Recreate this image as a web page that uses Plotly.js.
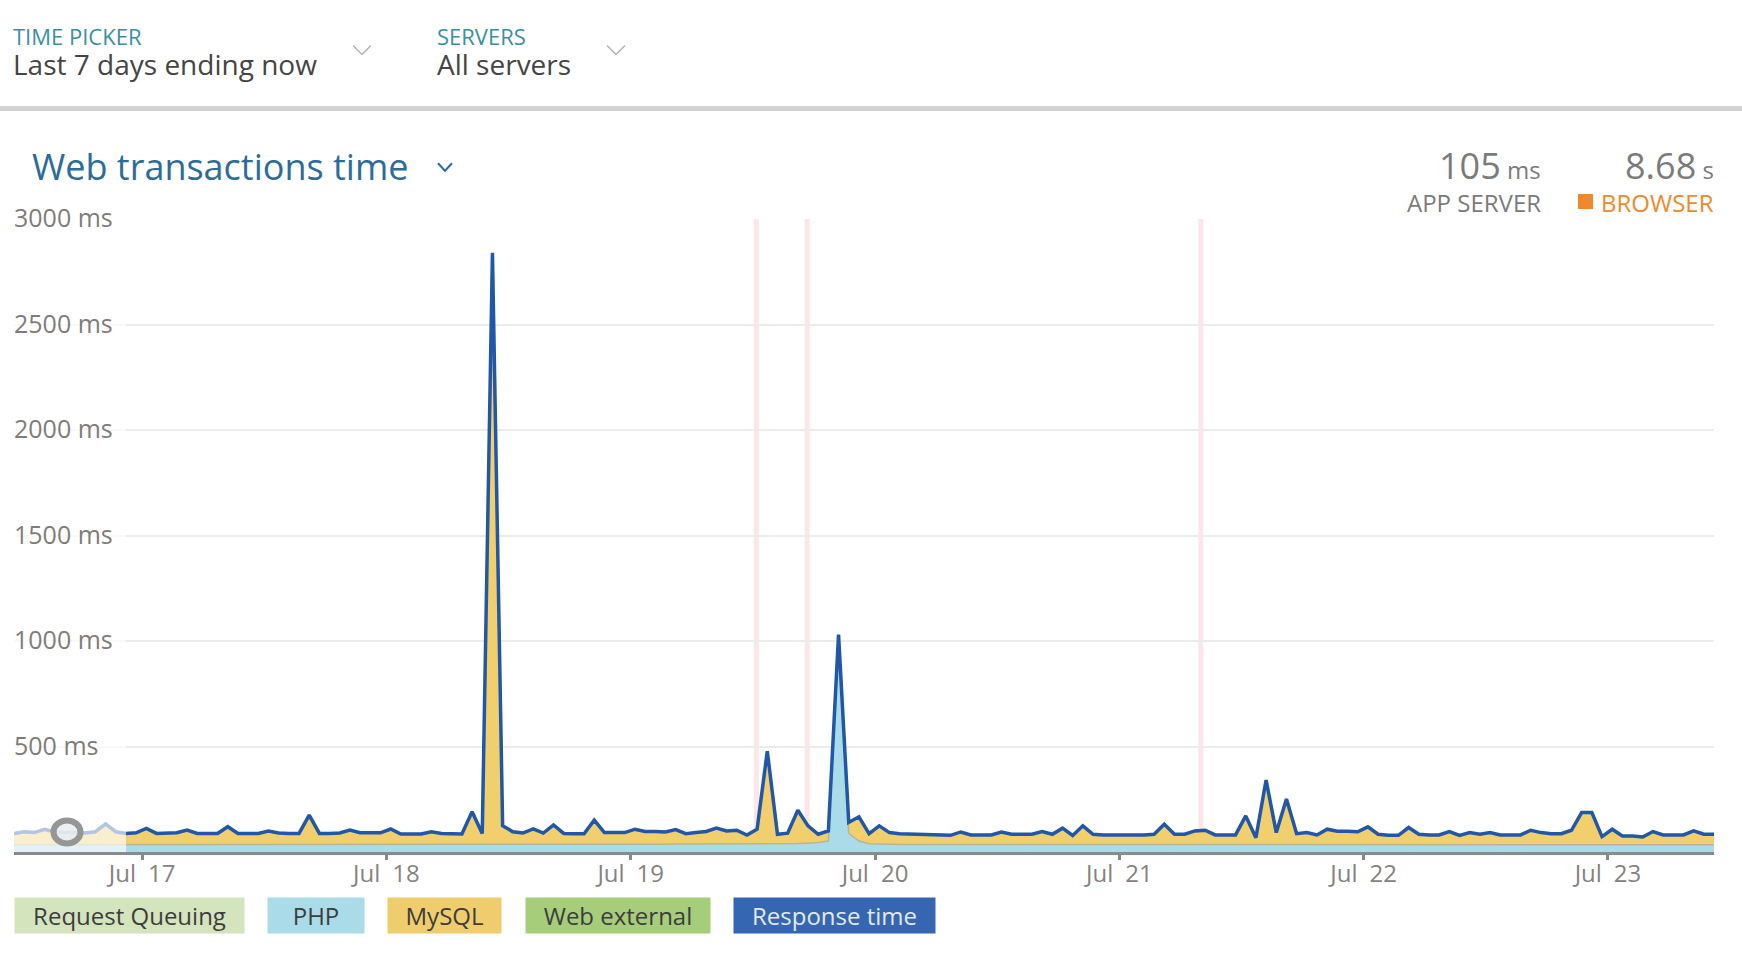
<!DOCTYPE html>
<html>
<head>
<meta charset="utf-8">
<script src="https://cdn.plot.ly/plotly-3.0.1.min.js"></script>
<style>
  html, body { margin: 0; padding: 0; background: #ffffff; }
  #chart { width: 1742px; height: 958px; }
</style>
</head>
<body>
<div id="chart"></div>
<script>
// ---------------- DATA ----------------
// hourly samples, first sample Jul 16 11:25
const startYear = 2016, startMonth = 7, startDay = 16, startHour = 11, startMinute = 25;
const sampleStepHours = 1;

// Response time (ms), one value per hour
const responseTime = [
  88, 96, 92, 107, 95, 92, 94, 90, 96, 133,
  96, 88, 91, 112, 88, 89, 91, 104, 88, 88,
  88, 120, 88, 88, 88, 99, 90, 88, 88, 175,
  88, 88, 90, 104, 91, 91, 91, 109, 85, 85,
  85, 96, 88, 86, 85, 191, 88, 2840, 125, 96,
  90, 110, 90, 128, 88, 86, 86, 151, 92, 92,
  92, 108, 97, 97, 95, 106, 87, 92, 97, 113,
  100, 103, 80, 108, 478, 84, 89, 198, 124, 84,
  100, 1030, 140, 167, 87, 124, 92, 86, 85, 85,
  84, 80, 79, 95, 81, 81, 81, 95, 84, 84,
  84, 97, 84, 113, 78, 124, 84, 81, 81, 81,
  79, 81, 84, 132, 84, 84, 100, 103, 81, 81,
  81, 171, 68, 341, 92, 251, 87, 92, 81, 108,
  98, 98, 96, 119, 84, 79, 79, 116, 84, 81,
  81, 97, 79, 92, 84, 92, 81, 81, 81, 103,
  92, 87, 87, 103, 187, 187, 73, 108, 76, 76,
  71, 97, 81, 81, 81, 100, 84, 84
];

// PHP time (ms), bottom layer of the stack
const phpTime = [
  34, 34, 35, 35, 34, 34, 35, 35, 34, 35,
  35, 34, 34, 35, 35, 34, 34, 35, 35, 34,
  34, 35, 35, 34, 34, 35, 35, 34, 34, 35,
  35, 34, 34, 35, 35, 34, 34, 35, 35, 34,
  34, 35, 35, 34, 34, 35, 34, 36, 36, 35,
  35, 34, 34, 35, 35, 36, 36, 36, 36, 36,
  37, 37, 37, 37, 37, 38, 38, 38, 38, 38,
  39, 39, 39, 39, 39, 39, 40, 40, 42, 45,
  52, 1025, 88, 52, 39, 37, 36, 36, 36, 36,
  36, 35, 35, 35, 35, 35, 35, 35, 35, 35,
  35, 35, 35, 35, 35, 35, 35, 35, 35, 35,
  35, 35, 35, 35, 35, 35, 35, 35, 35, 35,
  34, 34, 34, 34, 34, 34, 34, 34, 34, 34,
  34, 34, 34, 34, 34, 34, 34, 34, 34, 34,
  34, 34, 34, 34, 34, 34, 34, 34, 34, 34,
  34, 34, 34, 34, 34, 34, 34, 34, 34, 34,
  34, 34, 34, 34, 34, 34, 34, 34
];

// deployment markers
const deployments = ['2016-07-19 12:20', '2016-07-19 17:20', '2016-07-21 08:00'];

const yTickValues = [500, 1000, 1500, 2000, 2500, 3000];
const yTickSuffix = ' ms';
const legendNames = ['Request Queuing', 'PHP', 'MySQL', 'Web external', 'Response time'];
const appServerValue = '105', appServerUnit = 'ms';
const browserValue = '8.68', browserUnit = 's';
const headerLabels = ['TIME PICKER', 'SERVERS'];
const headerValues = ['Last 7 days ending now', 'All servers'];
const chartTitle = 'Web transactions time';

// ---------------- BUILD ----------------
function pad(n) { return String(n).padStart(2, '0'); }
function fmt(ms) {
  const d = new Date(ms);
  return d.getUTCFullYear() + '-' + pad(d.getUTCMonth() + 1) + '-' + pad(d.getUTCDate()) +
         ' ' + pad(d.getUTCHours()) + ':' + pad(d.getUTCMinutes());
}
const t0 = Date.UTC(startYear, startMonth - 1, startDay, startHour, startMinute);
const times = responseTime.map((_, i) => fmt(t0 + i * sampleStepHours * 3600000));

const W = 1742, H = 958;
const M = { l: 14, r: 28, t: 219, b: 106 };
const PW = W - M.l - M.r, PH = H - M.t - M.b;
const px2x = p => (p - M.l) / PW;
const py2y = p => (H - M.b - p) / PH;

const FONT = '"Open Sans", "Noto Sans", sans-serif';

const traces = [
  {
    name: legendNames[1], x: times, y: phpTime, type: 'scatter', mode: 'lines',
    line: { color: '#bab597', width: 1.5 }, fill: 'tozeroy', fillcolor: '#a9dce8',
    hoverinfo: 'skip'
  },
  {
    name: legendNames[2], x: times, y: responseTime, type: 'scatter', mode: 'none',
    fill: 'tonexty', fillcolor: '#f0cf6c', hoverinfo: 'skip'
  },
  {
    name: legendNames[4], x: times, y: responseTime, type: 'scatter', mode: 'lines',
    line: { color: '#2157a8', width: 3.5 }, hoverinfo: 'skip'
  }
];

const annotations = [];
function ann(text, xpx, ypx, opts) {
  annotations.push(Object.assign({
    text: text, xref: 'paper', yref: 'paper', x: px2x(xpx), y: py2y(ypx),
    xanchor: 'left', yanchor: 'middle', showarrow: false, borderpad: 0,
    font: { family: FONT, size: 20, color: '#444' }
  }, opts));
}

// header
ann(headerLabels[0], 12, 36, { font: { family: FONT, size: 22, color: '#3a8fa1' } });
ann(headerValues[0], 12, 64, { font: { family: FONT, size: 28, color: '#454545' } });
ann(headerLabels[1], 436, 36, { font: { family: FONT, size: 22, color: '#3a8fa1' } });
ann(headerValues[1], 436, 64, { font: { family: FONT, size: 28, color: '#454545' } });

// chart title
ann(chartTitle, 31, 166, { font: { family: FONT, size: 36, color: '#2b6c9a' } });

// summary numbers
ann(appServerValue + '<span style="font-size:24px"> ' + appServerUnit + '</span>', 1542, 165,
    { xanchor: 'right', font: { family: FONT, size: 36, color: '#7b7b7b' } });
ann('APP SERVER', 1542, 202, { xanchor: 'right', font: { family: FONT, size: 24, color: '#7b7b7b' } });
ann(browserValue + '<span style="font-size:24px"> ' + browserUnit + '</span>', 1715, 165,
    { xanchor: 'right', font: { family: FONT, size: 36, color: '#7b7b7b' } });
ann('BROWSER', 1715, 202, { xanchor: 'right', font: { family: FONT, size: 24, color: '#f0892b' } });

// y tick labels (drawn above the faded brush region)
yTickValues.forEach(v => {
  annotations.push({
    text: v + yTickSuffix, xref: 'paper', yref: 'y', x: px2x(13), y: v, yshift: 2,
    xanchor: 'left', yanchor: 'middle', showarrow: false, borderpad: 0,
    font: { family: FONT, size: 25, color: '#7f7c7a' }
  });
});

// legend boxes
const legendBoxes = [
  { left: 14, width: 229, bg: '#d4e4bd', color: '#3d3d3d' },
  { left: 267, width: 96, bg: '#a9dce8', color: '#3d3d3d' },
  { left: 387, width: 113, bg: '#f0cd6c', color: '#3d3d3d' },
  { left: 525, width: 184, bg: '#a6cd7a', color: '#3d3d3d' },
  { left: 733, width: 201, bg: '#3466b1', color: '#e3e8f2' }
];
legendNames.forEach((name, i) => {
  const b = legendBoxes[i];
  annotations.push({
    text: name, xref: 'paper', yref: 'paper', x: px2x(b.left), y: py2y(897),
    xanchor: 'left', yanchor: 'top', width: b.width, height: 35, align: 'center', valign: 'middle',
    bgcolor: b.bg, borderpad: 0, showarrow: false,
    font: { family: FONT, size: 24, color: b.color }
  });
});

function chevron(cx, cy, hw, hh, color, w) {
  return {
    type: 'path', xref: 'paper', yref: 'paper', layer: 'above',
    path: 'M ' + px2x(cx - hw) + ',' + py2y(cy - hh) + ' L ' + px2x(cx) + ',' + py2y(cy + hh) +
          ' L ' + px2x(cx + hw) + ',' + py2y(cy - hh),
    line: { color: color, width: w }
  };
}

const shapes = [];
// header separator
shapes.push({ type: 'rect', xref: 'paper', yref: 'paper', layer: 'above',
  x0: px2x(0), x1: px2x(W), y0: py2y(111), y1: py2y(106),
  fillcolor: '#d2d2d2', line: { width: 0 } });
shapes.push(chevron(362, 50, 9, 4.5, '#b2b2b2', 1.5));
shapes.push(chevron(616, 50, 9, 4.5, '#b2b2b2', 1.5));
shapes.push(chevron(445, 167, 7, 3.8, '#2b6c9a', 2));
// browser marker square
shapes.push({ type: 'rect', xref: 'paper', yref: 'paper', layer: 'above',
  x0: px2x(1578), x1: px2x(1593), y0: py2y(209), y1: py2y(194),
  fillcolor: '#f0892b', line: { width: 0 } });

// deployment bands
deployments.forEach(d => {
  shapes.push({ type: 'rect', xref: 'x', yref: 'paper', layer: 'below',
    xsizemode: 'pixel', xanchor: d, x0: -2.5, x1: 2.5, y0: 0, y1: 1,
    fillcolor: '#fce6e9', line: { width: 0 } });
});

// faded brush region at the start
shapes.push({ type: 'rect', xref: 'paper', yref: 'paper', layer: 'above',
  x0: 0, x1: px2x(126), y0: 0, y1: 1,
  fillcolor: 'rgba(255,255,255,0.66)', line: { width: 0 } });
// brush handle
shapes.push({ type: 'circle', xref: 'paper', yref: 'paper', layer: 'above',
  xsizemode: 'pixel', ysizemode: 'pixel', xanchor: px2x(67), yanchor: py2y(832),
  x0: -13.5, x1: 13.5, y0: -11.5, y1: 11.5,
  fillcolor: 'rgba(230,236,240,0.8)', line: { color: '#969696', width: 6 } });

const layout = {
  width: W, height: H,
  margin: M,
  paper_bgcolor: '#ffffff', plot_bgcolor: '#ffffff',
  showlegend: false,
  hovermode: false,
  font: { family: FONT },
  xaxis: {
    type: 'date', range: [times[0], times[times.length - 1]],
    tick0: '2016-07-17', dtick: 86400000, tickformat: '%b\u2002%d',
    ticks: 'outside', ticklen: 5, tickwidth: 3, tickcolor: '#8a8a8a',
    ticklabelstandoff: -7,
    showline: true, linecolor: '#8a8a8a', linewidth: 3,
    showgrid: false, zeroline: false,
    tickfont: { family: FONT, size: 24, color: '#86827f' }
  },
  yaxis: {
    range: [0, 3000], tickvals: yTickValues, showticklabels: false,
    showgrid: true, gridcolor: '#ececec', gridwidth: 2,
    zeroline: false, showline: false, ticks: ''
  },
  annotations: annotations,
  shapes: shapes
};

Plotly.newPlot('chart', traces, layout, { staticPlot: true, displayModeBar: false });
</script>
</body>
</html>
